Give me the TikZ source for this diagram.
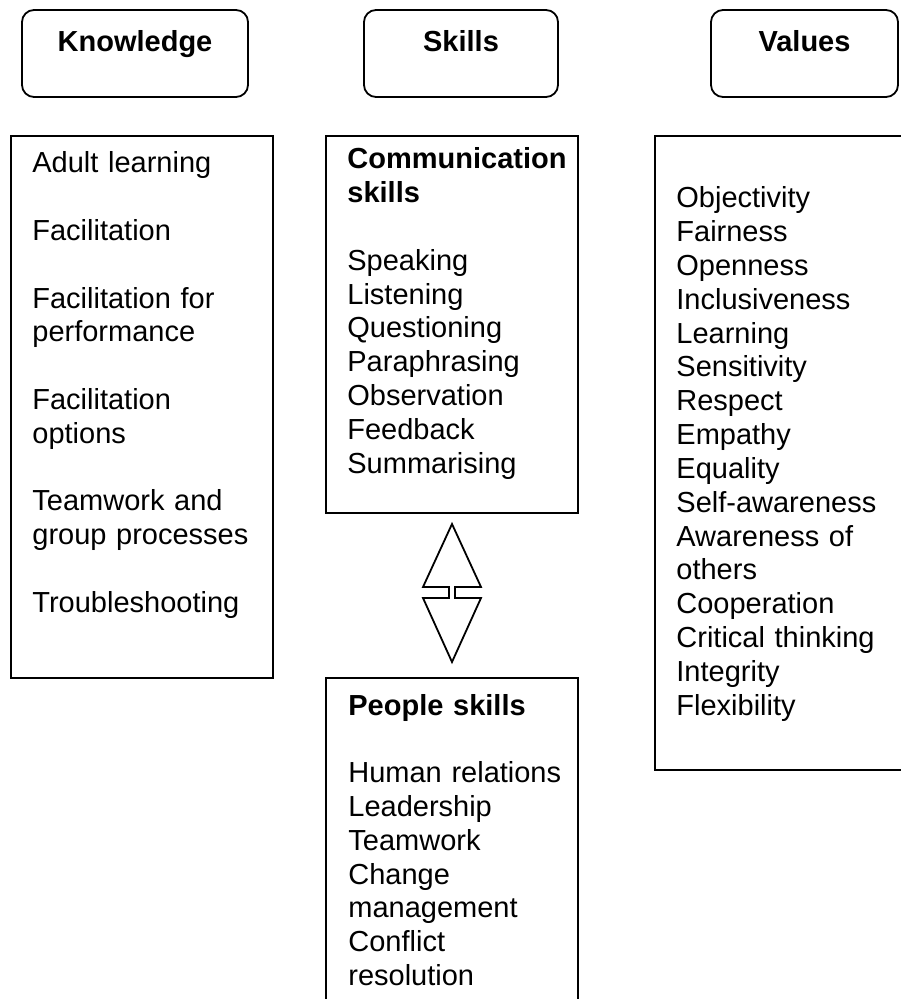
\documentclass[tikz,border=0pt]{standalone}
\usepackage{fontspec}
\setmainfont{Liberation Sans}
\usetikzlibrary{fit}
\begin{document}
\begin{tikzpicture}[x=0.5pt,y=-0.5pt,
  box/.style={draw, line width=0.9pt, inner sep=0pt},
  headbox/.style={box, rounded corners=6pt},
  head/.style={font=\fontsize{14.5}{16.9}\selectfont\bfseries, inner sep=0pt, anchor=base},
  txt/.style={font=\fontsize{14.5}{16.9}\selectfont, inner sep=0pt, anchor=base west,
    align=left, text width=135pt},
  arrowshape/.style={draw, line width=0.9pt, line join=miter}]
\useasboundingbox (0,0) rectangle (900,999);

% column headings
\node[headbox, fit={(22,10) (248,97)}] (khead) {};
\node[headbox, fit={(364,10) (558,97)}] (shead) {};
\node[headbox, fit={(711,10) (898,97)}] (vhead) {};
\node[head] (kheadtxt) at (135,52) {Knowledge};
\node[head] (sheadtxt) at (461,52) {Skills};
\node[head] (vheadtxt) at (804.5,52) {Values};

% content boxes
\node[box, fit={(11,136) (273,678)}] (kbox) {};
\node[box, fit={(326,136) (578,513)}] (cbox) {};
\node[box, fit={(326,678) (578,1010)}] (pbox) {};
\node[box, fit={(655,136) (912,770)}] (vbox) {};

\node[txt] (ktxt) at (32,173) {Adult learning\\[16.9pt]
Facilitation\\[16.9pt]
Facilitation for\\performance\\[16.9pt]
Facilitation\\options\\[16.9pt]
Teamwork and\\group processes\\[16.9pt]
Troubleshooting};

\node[txt] (ctxt) at (347,169) {\textbf{Communication}\\\textbf{skills}\\[16.9pt]
Speaking\\Listening\\Questioning\\Paraphrasing\\Observation\\Feedback\\Summarising};

\node[txt] (ptxt) at (348,715) {\textbf{People skills}\\[16.9pt]
Human relations\\Leadership\\Teamwork\\Change\\management\\Conflict\\resolution};

\node[txt] (vtxt) at (676,208) {Objectivity\\Fairness\\Openness\\Inclusiveness\\Learning\\Sensitivity\\Respect\\Empathy\\Equality\\Self-awareness\\Awareness of\\others\\Cooperation\\Critical thinking\\Integrity\\Flexibility};

% split two-way arrow between the skill boxes
\draw[arrowshape] (423,587) -- (452,524) -- (481,587) -- (455,587) -- (455,598)
  -- (481,598) -- (452,662) -- (423,598) -- (449,598) -- (449,587) -- cycle;
\end{tikzpicture}
\end{document}
